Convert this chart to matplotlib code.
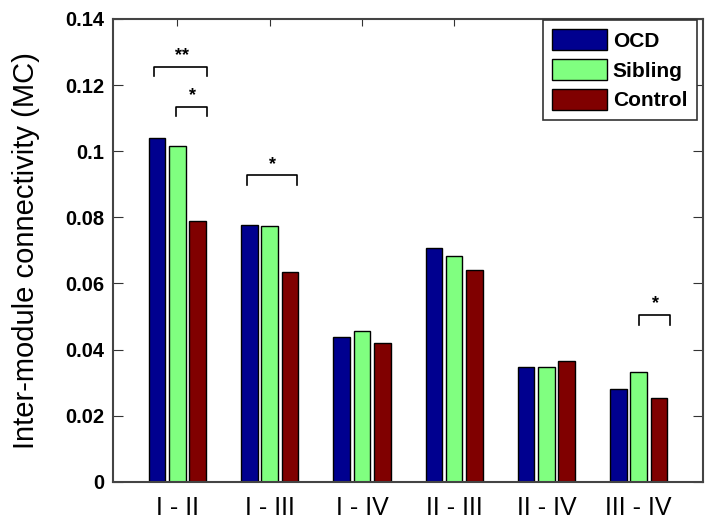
import numpy as np
import matplotlib
matplotlib.use("Agg")
import matplotlib.pyplot as plt

plt.rcParams['font.family'] = ['Liberation Sans', 'DejaVu Sans']

# ------- Data -------
pairs = ['I - II', 'I - III', 'I - IV', 'II - III', 'II - IV', 'III - IV']
groups = ['OCD', 'Sibling', 'Control']
ocd = [0.1040, 0.0776, 0.0437, 0.0707, 0.0347, 0.0282]
sibling = [0.1015, 0.0773, 0.0457, 0.0683, 0.0347, 0.0331]
control = [0.0790, 0.0634, 0.0421, 0.0642, 0.0364, 0.0254]
colors = ['#00008f', '#80ff80', '#800000']

# significance brackets: (x_left, x_right, y_top, y_leg, label)
brackets = [
    (0.75, 1.32, 0.1256, 0.1229, '**'),
    (0.98, 1.32, 0.1135, 0.1105, '*'),
    (1.75, 2.30, 0.0927, 0.0898, '*'),
    (6.00, 6.34, 0.0504, 0.0473, '*'),
]

# ------- Figure -------
fig = plt.figure(figsize=(7.14, 5.26), dpi=100)
ax = fig.add_axes([0.158, 0.0842, 0.827, 0.8797])

x = np.arange(1, len(pairs) + 1)
width = 0.18
step = 0.22
for i, (vals, name) in enumerate(zip([ocd, sibling, control], groups)):
    ax.bar(x + (i - 1) * step, vals, width, color=colors[i], edgecolor='black',
           linewidth=1.0, label=name, zorder=2)

for x0, x1, yt, yl, lab in brackets:
    ax.plot([x0, x0, x1, x1], [yl, yt, yt, yl], color='black', lw=1.2, zorder=3)
    ax.text((x0 + x1) / 2 + 0.01, yt + 0.0008, lab, ha='center', va='bottom',
            fontsize=13, fontweight='bold')

ax.set_xlim(0.3, 6.7)
ax.set_ylim(0, 0.14)
ax.set_xticks(x)
ax.set_xticklabels(pairs, fontsize=18)
ax.set_yticks(np.arange(0, 0.141, 0.02))
ax.set_yticklabels(['0', '0.02', '0.04', '0.06', '0.08', '0.1', '0.12', '0.14'],
                   fontsize=14.5, fontweight='bold')
ax.tick_params(axis='both', direction='in', top=True, right=True, color='#333333')
ax.tick_params(axis='y', length=7, pad=6)
ax.tick_params(axis='x', length=5, pad=10)
for s in ax.spines.values():
    s.set_linewidth(1.5)
    s.set_color('#444444')

ax.set_ylabel('Inter-module connectivity (MC)', fontsize=21, labelpad=18)

leg = ax.legend(loc='upper right', bbox_to_anchor=(0.9888, 0.9978), borderaxespad=0,
                fancybox=False, framealpha=1, edgecolor='#333333',
                prop={'size': 15, 'weight': 'bold'}, handlelength=2.6,
                handleheight=1.15, labelspacing=0.4, handletextpad=0.3,
                borderpad=0.45)
leg.get_frame().set_linewidth(1.2)

plt.savefig('out.png', dpi=100)
